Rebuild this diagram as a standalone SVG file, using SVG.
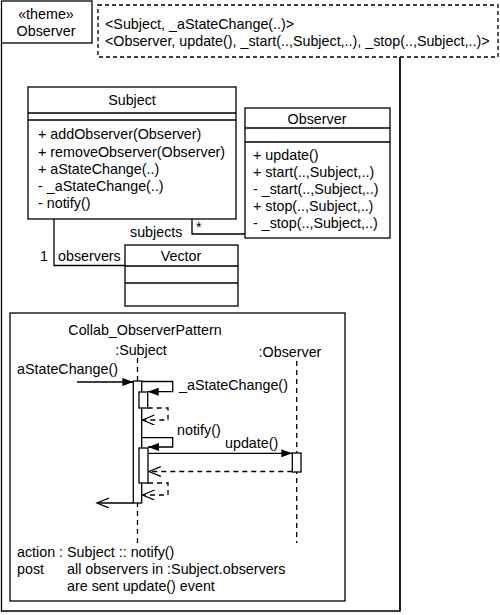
<svg xmlns="http://www.w3.org/2000/svg" width="500" height="615" viewBox="0 0 500 615">
<style>
text{font-family:"Liberation Sans",Arial,sans-serif;font-size:14.3px;fill:#000}
.c{text-anchor:middle}
.b{fill:#fff;stroke:#000;stroke-width:1.3}
.l{fill:none;stroke:#000;stroke-width:1.3}
.d{fill:none;stroke:#000;stroke-width:1.3;stroke-dasharray:5,4}
.dn{fill:#fff;stroke:#000;stroke-width:1.3;stroke-dasharray:4,3}
</style>
<defs>
<marker id="fa" markerUnits="userSpaceOnUse" markerWidth="12" markerHeight="10" refX="11" refY="4" orient="auto"><path d="M0,0 L11,4 L0,8 z" fill="#000"/></marker>
<marker id="oa" markerUnits="userSpaceOnUse" markerWidth="14" markerHeight="12" refX="12" refY="5" orient="auto"><path d="M0,0 L12,5 L0,10" fill="none" stroke="#000" stroke-width="1.3"/></marker>
</defs>
<rect width="500" height="615" fill="#fff"/>

<g id="theme-frame">
<path class="l" d="M1.5,43 V611 H400 V57"/>
<rect class="b" x="1.5" y="1" width="90.5" height="42"/>
<text class="c" x="46" y="19">«theme»</text>
<text class="c" x="46" y="36">Observer</text>
</g>

<g id="binding-note">
<rect class="dn" x="98" y="5" width="400" height="52"/>
<text x="105" y="29">&lt;Subject, _aStateChange(..)&gt;</text>
<text x="105" y="46">&lt;Observer, update(), _start(..,Subject,..), _stop(..,Subject,..)&gt;</text>
</g>

<g id="class-subject">
<rect class="b" x="28" y="87" width="208" height="132"/>
<line class="l" x1="28" y1="113" x2="236" y2="113"/>
<line class="l" x1="28" y1="120" x2="236" y2="120"/>
<text class="c" x="132" y="105">Subject</text>
<text x="38" y="139">+ addObserver(Observer)</text>
<text x="38" y="157">+ removeObserver(Observer)</text>
<text x="38" y="174">+ aStateChange(..)</text>
<text x="38" y="191">- _aStateChange(..)</text>
<text x="38" y="208">- notify()</text>
</g>

<g id="class-observer">
<rect class="b" x="245" y="108" width="145" height="130"/>
<line class="l" x1="245" y1="128" x2="390" y2="128"/>
<line class="l" x1="245" y1="142" x2="390" y2="142"/>
<text class="c" x="317" y="124">Observer</text>
<text x="253" y="160">+ update()</text>
<text x="253" y="177">+ start(..,Subject,..)</text>
<text x="253" y="194">- _start(..,Subject,..)</text>
<text x="253" y="211">+ stop(..,Subject,..)</text>
<text x="253" y="228">- _stop(..,Subject,..)</text>
</g>

<g id="class-vector">
<rect class="b" x="125" y="245" width="113" height="61"/>
<line class="l" x1="125" y1="266" x2="238" y2="266"/>
<line class="l" x1="125" y1="283" x2="238" y2="283"/>
<text class="c" x="181" y="261">Vector</text>
</g>

<g id="connectors">
<path class="l" d="M192,219 V234 H245"/>
<text x="130" y="237">subjects</text>
<text x="196" y="232" font-size="11">*</text>
<path class="l" d="M54,219 V265.5 H125"/>
<text x="40" y="261">1</text>
<text x="58" y="261">observers</text>
<line class="l" x1="400" y1="57" x2="400" y2="611"/>
</g>

<g id="collab-frame">
<rect class="b" x="10" y="313" width="335" height="288"/>
<text class="c" x="145" y="335">Collab_ObserverPattern</text>
<text x="17" y="557">action : Subject :: notify()</text>
<text x="17" y="574">post</text>
<text x="67" y="574">all observers in :Subject.observers</text>
<text x="67" y="591">are sent update() event</text>
</g>

<g id="lifeline-subject">
<text class="c" x="141" y="355">:Subject</text>
<line class="d" x1="137.5" y1="358" x2="137.5" y2="545"/>
<rect class="b" x="133.3" y="381" width="8.4" height="122"/>
<rect class="b" x="139" y="392" width="8.7" height="16"/>
<rect class="b" x="139" y="448" width="9" height="35"/>
</g>

<g id="lifeline-observer">
<text class="c" x="290" y="357">:Observer</text>
<line class="d" x1="296.7" y1="361" x2="296.7" y2="543"/>
<rect class="b" x="292.3" y="453" width="8.7" height="19"/>
</g>

<g id="messages">
<text x="17" y="374">aStateChange()</text>
<line class="l" x1="77" y1="382" x2="133.3" y2="382" marker-end="url(#fa)"/>
<path class="l" d="M141.7,381.5 H172.7 V391.7 H147.7" marker-end="url(#fa)"/>
<text x="179" y="390">_aStateChange()</text>
<path class="d" stroke-dasharray="4,3" d="M147.7,408 H168 V420 H142.5" marker-end="url(#oa)"/>
<path class="l" d="M141.7,437.7 H172.7 V447 H148" marker-end="url(#fa)"/>
<text x="177" y="435">notify()</text>
<line class="l" x1="148" y1="453.3" x2="292.3" y2="453.3" marker-end="url(#fa)"/>
<text x="225" y="448">update()</text>
<line class="d" x1="292.3" y1="471.5" x2="149" y2="471.5" marker-end="url(#oa)"/>
<path class="d" stroke-dasharray="4,3" d="M148,483 H168 V495 H142.5" marker-end="url(#oa)"/>
<line class="l" x1="133.3" y1="503" x2="97" y2="503" marker-end="url(#oa)"/>
</g>
</svg>
